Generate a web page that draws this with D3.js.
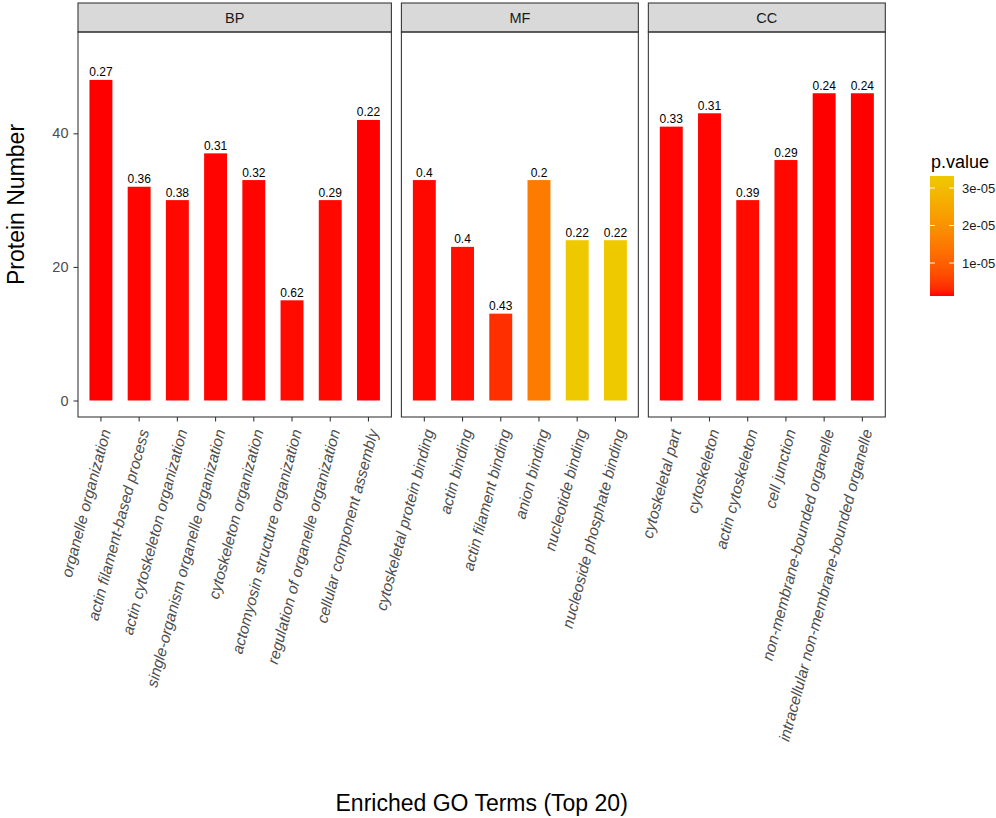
<!DOCTYPE html>
<html>
<head>
<meta charset="utf-8">
<script src="https://cdn.jsdelivr.net/npm/d3@7"></script>
<style>
  body { margin: 0; background: #fff; }
  text { font-family: "Liberation Sans", Arial, sans-serif; }
</style>
</head>
<body>
<div id="chart"></div>
<script>
// facets
const facets = ["BP", "MF", "CC"];

const bpTerms = [
  "organelle organization",
  "actin filament-based process",
  "actin cytoskeleton organization",
  "single-organism organelle organization",
  "cytoskeleton organization",
  "actomyosin structure organization",
  "regulation of organelle organization",
  "cellular component assembly",
];
const bpCounts = [48, 32, 30, 37, 33, 15, 30, 42];
const bpLabels = ["0.27", "0.36", "0.38", "0.31", "0.32", "0.62", "0.29", "0.22"];
const bpPvalues = [1.2e-6, 1.3e-6, 1.4e-6, 1.3e-6, 1.3e-6, 1.5e-6, 1.4e-6, 1.2e-6];

const mfTerms = [
  "cytoskeletal protein binding",
  "actin binding",
  "actin filament binding",
  "anion binding",
  "nucleotide binding",
  "nucleoside phosphate binding",
];
const mfCounts = [33, 23, 13, 33, 24, 24];
const mfLabels = ["0.4", "0.4", "0.43", "0.2", "0.22", "0.22"];
const mfPvalues = [1.4e-6, 1.6e-6, 3.6e-6, 1.5e-5, 3.32e-5, 3.32e-5];

const ccTerms = [
  "cytoskeletal part",
  "cytoskeleton",
  "actin cytoskeleton",
  "cell junction",
  "non-membrane-bounded organelle",
  "intracellular non-membrane-bounded organelle",
];
const ccCounts = [41, 43, 30, 36, 46, 46];
const ccLabels = ["0.33", "0.31", "0.39", "0.29", "0.24", "0.24"];
const ccPvalues = [1.3e-6, 1.3e-6, 1.5e-6, 1.4e-6, 1.2e-6, 1.2e-6];

const yTicks = [0, 20, 40];
const legendTicks = [1e-5, 2e-5, 3e-5];
const legendTickLabels = ["1e-05", "2e-05", "3e-05"];

const groups = [
  { name: facets[0], terms: bpTerms, counts: bpCounts, labels: bpLabels, p: bpPvalues },
  { name: facets[1], terms: mfTerms, counts: mfCounts, labels: mfLabels, p: mfPvalues },
  { name: facets[2], terms: ccTerms, counts: ccCounts, labels: ccLabels, p: ccPvalues },
];

const width = 996, height = 818;
const left = 78, right = 885.3, gap = 10;
const stripTop = 3, panelTop = 32, panelBottom = 417;

const svg = d3.select("#chart").append("svg")
  .attr("width", width).attr("height", height);

const allP = groups.flatMap((g) => g.p);
const pExtent = d3.extent(allP);
const color = d3.scaleLinear().domain(pExtent)
  .range(["#FF0000", "#EEC900"]).interpolate(d3.interpolateLab);

const y = d3.scaleLinear().domain([-2.47, 55.17]).range([panelBottom, panelTop]);

// panel widths proportional to number of categories (space = "free")
const units = groups.map((g) => g.terms.length + 0.2);
const unit = (right - left - gap * (groups.length - 1)) / d3.sum(units);

let x0 = left;
groups.forEach((g, gi) => {
  const w = units[gi] * unit;
  const x = d3.scaleBand().domain(g.terms).range([x0, x0 + w])
    .paddingInner(0.4).paddingOuter(0.3);
  const pg = svg.append("g");

  // strip
  pg.append("rect").attr("x", x0).attr("y", stripTop)
    .attr("width", w).attr("height", panelTop - stripTop)
    .attr("fill", "#D9D9D9").attr("stroke", "#333").attr("stroke-width", 1.07);
  pg.append("text").attr("x", x0 + w / 2).attr("y", (stripTop + panelTop) / 2)
    .attr("dy", "0.36em").attr("text-anchor", "middle")
    .attr("font-size", 14.5).attr("fill", "#1A1A1A").text(g.name);

  // bars
  pg.selectAll("rect.bar").data(g.terms).join("rect").attr("class", "bar")
    .attr("x", (d) => x(d))
    .attr("y", (d, i) => y(g.counts[i]))
    .attr("width", x.bandwidth())
    .attr("height", (d, i) => y(0) - y(g.counts[i]))
    .attr("fill", (d, i) => color(g.p[i]));

  pg.selectAll("text.val").data(g.terms).join("text").attr("class", "val")
    .attr("x", (d) => x(d) + x.bandwidth() / 2)
    .attr("y", (d, i) => y(g.counts[i]) - 3.5)
    .attr("text-anchor", "middle").attr("font-size", 12).attr("fill", "#000")
    .text((d, i) => g.labels[i]);

  // panel border
  pg.append("rect").attr("x", x0).attr("y", panelTop)
    .attr("width", w).attr("height", panelBottom - panelTop)
    .attr("fill", "none").attr("stroke", "#333").attr("stroke-width", 1.07);

  // x axis
  const xa = pg.append("g").attr("transform", `translate(0,${panelBottom})`)
    .call(d3.axisBottom(x).tickSize(4.5).tickSizeOuter(0).tickFormat(""));
  xa.select(".domain").remove();
  xa.selectAll("line").attr("stroke", "#333").attr("stroke-width", 1.07);

  pg.selectAll("text.xl").data(g.terms).join("text").attr("class", "xl")
    .attr("transform", (d) =>
      `translate(${x(d) + x.bandwidth() / 2 + 10},${panelBottom + 14}) rotate(-75)`)
    .attr("text-anchor", "end").attr("font-size", 15.5)
    .attr("font-style", "italic").attr("fill", "#4D4D4D").text((d) => d);

  // y axis on first panel only
  if (gi === 0) {
    const ya = pg.append("g").attr("transform", `translate(${x0},0)`)
      .call(d3.axisLeft(y).tickValues(yTicks).tickSize(4.5).tickPadding(5));
    ya.select(".domain").remove();
    ya.selectAll("line").attr("stroke", "#333").attr("stroke-width", 1.07);
    ya.selectAll("text").attr("font-size", 14.5).attr("fill", "#4D4D4D")
      .attr("font-family", "Liberation Sans, Arial, sans-serif");
  }
  x0 += w + gap;
});

// axis titles
svg.append("text").attr("x", (left + right) / 2).attr("y", 811)
  .attr("text-anchor", "middle").attr("font-size", 23).attr("fill", "#000")
  .text("Enriched GO Terms (Top 20)");
svg.append("text")
  .attr("transform", `translate(24,${(panelTop + panelBottom) / 2 - 20}) rotate(-90)`)
  .attr("text-anchor", "middle").attr("font-size", 23).attr("fill", "#000")
  .text("Protein Number");

// legend
const lx = 930, lw = 24, lTop = 176, lBottom = 296;
const ly = d3.scaleLinear().domain(pExtent).range([lBottom, lTop]);
const grad = svg.append("defs").append("linearGradient").attr("id", "pgrad")
  .attr("x1", 0).attr("y1", 1).attr("x2", 0).attr("y2", 0);
d3.range(0, 1.0001, 0.05).forEach((t) => {
  grad.append("stop").attr("offset", t)
    .attr("stop-color", color(pExtent[0] + t * (pExtent[1] - pExtent[0])));
});
svg.append("text").attr("x", 931).attr("y", 168).attr("font-size", 18)
  .attr("fill", "#000").text("p.value");
svg.append("rect").attr("x", lx).attr("y", lTop).attr("width", lw)
  .attr("height", lBottom - lTop).attr("fill", "url(#pgrad)");
legendTicks.forEach((v, i) => {
  const yy = ly(v);
  svg.append("line").attr("x1", lx).attr("x2", lx + lw / 5).attr("y1", yy).attr("y2", yy)
    .attr("stroke", "#fff").attr("stroke-width", 1);
  svg.append("line").attr("x1", lx + lw - lw / 5).attr("x2", lx + lw).attr("y1", yy).attr("y2", yy)
    .attr("stroke", "#fff").attr("stroke-width", 1);
  svg.append("text").attr("x", 962).attr("y", yy).attr("dy", "0.36em")
    .attr("font-size", 13).attr("fill", "#1A1A1A").text(legendTickLabels[i]);
});
</script>
</body>
</html>
